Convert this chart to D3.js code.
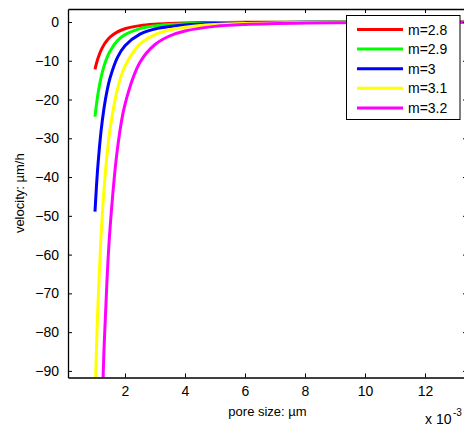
<!DOCTYPE html>
<html>
<head>
<meta charset="utf-8">
<script src="https://cdn.jsdelivr.net/npm/d3@7/dist/d3.min.js"></script>
<style>
  html, body { margin: 0; padding: 0; background: #fff; }
  svg { display: block; font-family: "Liberation Sans", Arial, Helvetica, sans-serif; }
</style>
</head>
<body>
<svg id="chart" width="464" height="426"></svg>
<script>
// pore size samples (x 10^-3 µm)
const poreSize = [1, 1.05, 1.1, 1.2, 1.3, 1.4, 1.5, 1.75, 2, 2.5, 3, 3.5, 4, 5, 6, 8, 10, 12, 14];

// velocity (µm/h) for each exponent m
const velM28 = [-12.2, -10.64, -9.34, -7.32, -5.85, -4.76, -3.92, -2.55, -1.75, -0.94, -0.56, -0.366, -0.25, -0.13, -0.081, -0.036, -0.019, -0.012, -0.0075];
const velM29 = [-24.4, -21.18, -18.51, -14.38, -11.40, -9.20, -7.53, -4.81, -3.27, -1.71, -1.01, -0.645, -0.44, -0.23, -0.135, -0.059, -0.031, -0.018, -0.012];
const velM30 = [-48.9, -42.24, -36.74, -28.30, -22.26, -17.82, -14.49, -9.12, -6.11, -3.13, -1.81, -1.14, -0.76, -0.39, -0.226, -0.096, -0.049, -0.028, -0.018];
const velM31 = [-97.7, -83.98, -72.71, -55.52, -43.32, -34.43, -27.80, -17.23, -11.39, -5.70, -3.24, -2.01, -1.33, -0.665, -0.378, -0.155, -0.078, -0.044, -0.027];
const velM32 = [-195.3, -167.08, -143.96, -108.98, -84.35, -66.54, -53.36, -32.60, -21.25, -10.41, -5.81, -3.55, -2.31, -1.13, -0.632, -0.252, -0.123, -0.069, -0.042];

const seriesNames = ["m=2.8", "m=2.9", "m=3", "m=3.1", "m=3.2"];
const seriesValues = [velM28, velM29, velM30, velM31, velM32];
const seriesColors = ["#ff0000", "#00ff00", "#0000ff", "#ffff00", "#ff00ff"];

const xTicks = [2, 4, 6, 8, 10, 12];
const yTicks = [0, -10, -20, -30, -40, -50, -60, -70, -80, -90];

const svg = d3.select("#chart");
const plotL = 68, plotR = 467, plotT = 9, plotB = 377.5;

const x = d3.scaleLinear().domain([0.1, 13.4]).range([plotL, plotR]);
const y = d3.scaleLinear().domain([-91.7, 3.35]).range([plotB, plotT]);

svg.append("defs").append("clipPath").attr("id", "plotClip")
  .append("rect").attr("x", plotL).attr("y", plotT)
  .attr("width", plotR - plotL).attr("height", plotB - plotT);

// curves
const line = d3.line()
  .x((d, i) => x(poreSize[i]))
  .y(d => y(d))
  .curve(d3.curveCatmullRom.alpha(0.5));

const plot = svg.append("g").attr("clip-path", "url(#plotClip)");
seriesValues.forEach((vals, k) => {
  plot.append("path")
    .attr("d", line(vals))
    .attr("fill", "none")
    .attr("stroke", seriesColors[k])
    .attr("stroke-width", 3);
});

// axes: ticks point inward, box on all four sides
const tickLen = 4;
const axisBottom = d3.axisBottom(x).tickValues(xTicks).tickSizeInner(-tickLen).tickSizeOuter(0).tickPadding(9);
const axisTop = d3.axisTop(x).tickValues(xTicks).tickSizeInner(-tickLen).tickSizeOuter(0).tickFormat("");
const axisLeft = d3.axisLeft(y).tickValues(yTicks).tickSizeInner(-tickLen).tickSizeOuter(0).tickPadding(9)
  .tickFormat(d => d < 0 ? "\u2212" + Math.abs(d) : d);
const axisRight = d3.axisRight(y).tickValues(yTicks).tickSizeInner(-tickLen).tickSizeOuter(0).tickFormat("");

function styleAxis(g) {
  g.selectAll(".domain").attr("stroke", "#000").attr("stroke-width", 1.3);
  g.selectAll(".tick line").attr("stroke", "#000").attr("stroke-width", 1);
  g.selectAll(".tick text").attr("fill", "#000").attr("font-size", 14);
}

svg.append("g").attr("transform", `translate(0,${plotB})`).call(axisBottom).call(styleAxis);
svg.append("g").attr("transform", `translate(0,${plotT})`).call(axisTop).call(styleAxis);
svg.append("g").attr("transform", `translate(${plotL},0)`).call(axisLeft).call(styleAxis);
svg.append("g").attr("transform", `translate(${plotR},0)`).call(axisRight).call(styleAxis);

// axis labels
svg.append("text")
  .attr("x", (plotL + plotR) / 2).attr("y", 416)
  .attr("text-anchor", "middle").attr("font-size", 13)
  .text("pore size: \u00b5m");

svg.append("text")
  .attr("transform", `translate(24,${(plotT + plotB) / 2}) rotate(-90)`)
  .attr("text-anchor", "middle").attr("font-size", 13)
  .text("velocity: \u00b5m/h");

// exponent multiplier
const mult = svg.append("text").attr("x", 425).attr("y", 424).attr("font-size", 14);
mult.append("tspan").text("x 10");
mult.append("tspan").attr("dx", 1.5).attr("dy", -8).attr("font-size", 10).text("-3");

// legend
const legX = 346.5, legY = 15.5, legW = 113.5, legH = 104;
const leg = svg.append("g");
leg.append("rect")
  .attr("x", legX).attr("y", legY).attr("width", legW).attr("height", legH)
  .attr("fill", "#fff").attr("stroke", "#000").attr("stroke-width", 1);
seriesNames.forEach((name, k) => {
  const cy = 29.5 + k * 19.6;
  leg.append("line")
    .attr("x1", 357).attr("x2", 403).attr("y1", cy).attr("y2", cy)
    .attr("stroke", seriesColors[k]).attr("stroke-width", 3);
  leg.append("text")
    .attr("x", 408).attr("y", cy + 5).attr("font-size", 14)
    .text(name);
});
</script>
</body>
</html>
